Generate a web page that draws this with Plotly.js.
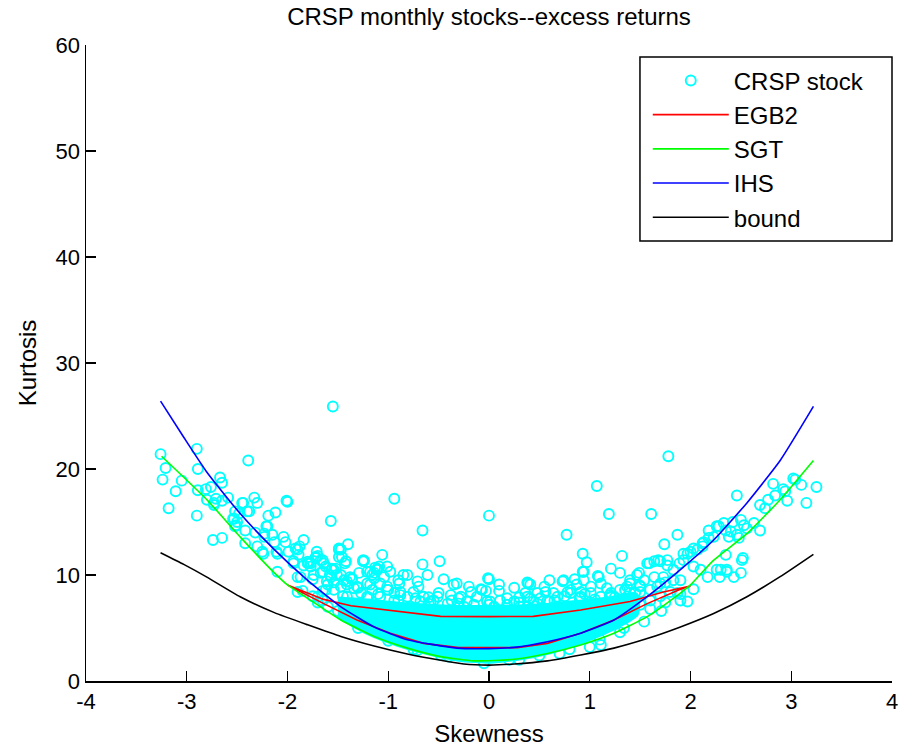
<!DOCTYPE html>
<html>
<head>
<meta charset="utf-8">
<script src="https://cdn.plot.ly/plotly-3.0.1.min.js"></script>
<style>html,body{margin:0;padding:0;background:#fff}#chart{width:909px;height:749px}</style>
</head>
<body>
<div id="chart"></div>
<script>
// ---- data ----
var stockSkew = [-3.26,-2.90,-2.39,-3.21,-2.89,-3.24,-3.05,-2.67,-2.65,-3.11,-2.89,-2.81,-2.76,-2.80,-2.71,-2.59,-2.65,-2.73,-3.18,-2.33,
 -2.30,-2.44,-2.01,-2.90,-2.52,-2.40,-2.12,-2.19,-2.54,-2.50,-2.52,-2.42,-2.32,-2.21,-2.23,-2.15,-2.74,-2.65,-2.42,-2.30,
 -2.13,-2.04,-2.02,-1.84,-1.92,-1.99,-2.24,-2.11,-1.88,-1.71,-1.70,-1.65,-1.47,-1.40,-1.49,-1.56,-1.43,-1.25,-1.06,-1.01,
 -0.49,-2.10,-1.94,-1.84,-1.79,-1.74,-1.65,-1.58,-1.54,-1.38,-1.29,-1.18,-1.14,-1.09,-0.85,-0.81,-0.71,-0.61,-0.35,-0.32,
 -0.01,0.10,-1.55,-0.94,-1.57,0.00,-0.66,-0.66,-1.49,-1.46,-1.24,-1.77,-1.64,-1.13,-0.98,-1.21,-1.56,0.00,-1.08,-1.18,
 -0.89,0.39,0.36,-0.08,-0.03,-0.18,0.10,-0.75,-1.36,-1.47,-1.60,-1.57,-0.38,0.18,0.44,-0.55,-0.68,-0.94,-1.08,0.01,
 -0.25,0.05,-0.15,-0.88,-1.27,-1.21,1.78,1.07,1.19,1.61,0.77,1.87,1.74,0.93,0.97,1.32,0.93,0.73,1.08,1.21,
 1.30,1.47,1.57,1.64,1.70,1.77,1.89,1.93,2.00,2.07,2.12,2.18,2.23,2.28,2.35,2.38,2.46,2.42,2.50,2.53,
 2.46,2.48,2.56,2.63,2.69,2.69,2.74,2.77,2.82,2.84,2.92,2.94,2.96,3.02,3.04,3.10,3.15,3.25,2.35,2.52,
 2.17,2.29,2.36,2.43,2.50,1.97,1.71,1.54,1.34,2.03,1.90,0.38,0.41,1.09,1.59,1.40,1.17,1.01,0.87,0.81,
 0.64,0.56,0.51,1.67,1.83,1.87,1.11,2.30,2.51,2.03,2.12,-1.41,-1.08,-0.71,-0.48,-0.05,-1.70,-1.90,0.30,0.70,
 1.00,-1.30,-1.00,-0.70,-0.50,-0.20,0.25,0.55,0.75,0.95,1.20,1.35,1.50,-1.10,-0.60,-0.30,0.30,0.65,1.05,1.25,
 1.45,-1.45,-1.75,-1.90,-1.65,1.60,1.75,0.85,0.60,-0.45,-0.90];
var stockKurt = [21.4,21.9,20.8,20.1,20.0,19.0,18.9,19.2,18.7,17.9,18.0,18.1,18.3,17.1,17.2,17.3,17.0,16.6,16.3,17.3,
 16.8,16.8,17.0,15.6,16.0,16.0,15.9,15.6,15.3,15.0,14.6,14.2,14.0,14.6,13.6,13.8,13.3,13.5,13.0,12.7,
 13.1,13.6,13.1,13.3,12.5,12.2,12.0,12.2,12.7,12.2,11.8,11.4,12.4,12.9,11.7,10.6,11.1,11.3,11.9,10.8,
 11.3,10.3,11.1,10.9,11.1,10.0,10.3,10.0,9.3,9.8,10.2,10.3,9.7,10.8,10.0,10.0,9.4,10.0,9.1,9.2,
 9.7,9.1,25.9,17.2,15.1,15.6,14.2,11.0,12.5,11.7,11.35,11.1,11.1,10.7,10.3,10.3,10.5,9.6,9.2,9.1,
 9.2,9.2,8.3,8.65,8.5,8.4,8.5,8.4,9.6,8.9,9.1,9.8,8.1,7.8,7.5,7.6,7.5,7.6,7.95,7.5,
 7.0,7.0,7.2,8.1,8.3,7.95,21.2,18.4,15.75,15.75,13.8,13.8,12.9,12.0,11.2,11.8,10.3,9.4,9.9,10.6,
 10.2,10.0,11.1,11.3,11.3,10.9,11.1,12.0,12.2,12.4,12.7,13.5,13.6,14.6,14.2,13.6,17.5,15.0,15.2,14.7,
 13.8,13.5,14.4,14.9,14.2,16.6,16.3,17.1,18.6,17.5,18.1,17.9,17.0,19.1,19.0,18.5,16.8,18.3,11.9,11.6,
 9.8,9.8,10.3,9.8,10.2,7.5,6.6,5.6,5.0,8.65,7.6,9.3,9.1,9.8,11.1,9.2,8.75,8.9,9.1,8.3,
 8.3,8.4,7.8,8.9,9.5,8.3,3.4,10.5,11.4,12.5,13.0,6.2,5.0,2.9,2.45,1.67,7.4,8.4,2.0,2.6,
 3.2,8.8,8.6,8.9,8.3,8.9,8.8,8.9,8.0,8.2,8.1,8.6,9.0,8.2,7.9,7.8,7.9,7.6,7.7,7.9,
 8.3,8.0,9.6,9.8,8.5,8.6,9.3,9.6,9.5,9.6,9.5];

// more stocks, read from the dense halo around the fitted curves
var haloSkew = [-2.53,-2.51,-2.25,-2.23,-2.20,-1.90,-1.89,-1.94,-1.80,-1.72,
 -1.77,-1.87,-1.67,-1.61,-1.52,-1.49,-1.42,-1.47,-1.41,-1.36,
 -1.25,-1.31,-1.21,-1.11,-1.14,-1.16,-1.01,-0.94,-2.00,-2.45,
 -2.73,-2.38,-2.48,-2.10,-1.70,-1.62,-1.54,-1.41,-1.41,-1.26,
 2.13,2.18,2.26,2.33,2.40,2.36,2.26,1.97,1.93,2.03,
 2.10,1.68,1.77,1.83,1.73,1.64,1.54,1.49,1.40,0.94,
 0.94,0.74,1.11,1.37,1.70,1.90,1.50,0.91,0.81,1.21,
 -1.85,-1.75,-1.65,-1.60,-1.50,-1.45,1.50,1.60,1.70,1.80,
 1.60,1.75,1.90,-1.30,-1.00,-0.75,-0.40,0.20,0.50,0.80,
 1.10,1.30,-1.20,-0.90,-0.60,-0.30,0.00,0.30,0.60,0.90,
 1.20];
var haloKurt = [15.3,14.7,12.2,13.9,14.6,12.4,11.9,11.3,11.1,11.6,
 10.8,9.8,10.2,9.4,10.6,12.4,11.3,10.0,9.4,9.7,
 11.4,8.9,9.2,10.6,10.2,8.6,8.9,8.3,16.9,16.8,
 16.8,16.0,15.8,12.0,7.95,8.6,8.6,7.95,6.4,7.0,
 13.1,14.2,14.6,14.9,14.1,10.5,10.5,12.0,11.4,10.8,
 10.5,11.4,11.4,10.5,9.8,9.8,9.5,10.2,9.5,10.3,
 9.5,9.5,9.2,8.9,9.2,9.5,8.4,8.4,8.6,8.3,
 8.5,8.0,7.6,7.0,6.6,7.2,7.2,7.6,8.0,8.4,
 6.8,7.4,8.2,5.0,3.8,3.0,2.3,2.0,2.4,3.0,
 3.9,4.6,7.9,7.6,7.3,7.3,7.2,7.4,7.5,7.8,
 8.1];

// stocks in the crowded band just above the upper EGB2 curve
var bandSkew = [-1.80,-1.72,-1.67,-1.62,-1.54,-1.51,-1.44,-1.41,-1.34,-1.16,
 -1.11,-1.04,-1.01,-0.88,-0.81,-0.78,-0.73,-0.65,-0.58,-0.51,
 -0.41,-0.37,-0.28,-0.22,-0.12,-0.07,-0.02,0.11,0.18,0.25,
 0.31,0.41,0.48,0.38,0.48,0.58,0.68,0.78,0.91,1.01,
 1.11,1.21,1.30,1.40,1.50,0.38,0.51];
var bandKurt = [11.25,11.7,11.4,10.8,10.5,10.0,9.5,9.1,8.75,10.0,
 10.5,9.8,8.6,8.4,7.95,7.0,7.8,7.95,7.5,7.95,
 7.3,7.6,7.95,7.5,7.95,8.6,7.5,7.6,7.2,7.5,
 7.0,7.8,7.3,7.95,8.3,7.6,7.95,8.4,7.95,8.3,
 7.95,7.95,8.6,8.3,8.9,7.0,6.7];

// outline of the solid, fully overlapped part of the stock cloud
var coreSkew = [-1.5,-1.2,-0.9,-0.6,-0.3,0.0,0.3,0.6,0.9,1.2,1.45,
                1.45,1.2,0.9,0.6,0.3,0.0,-0.3,-0.6,-0.9,-1.2,-1.5];
var coreKurt = [7.6,7.4,7.1,6.9,6.8,6.8,6.85,7.0,7.3,7.6,8.0,
                6.4,5.0,3.8,2.9,2.3,2.0,2.2,2.8,3.6,4.7,6.3];

var egb2Skew = [-2.0,-1.64,-1.37,-1.14,-0.81,-0.48,0.0,0.44,0.91,1.40,1.73,2.0,
                1.90,1.57,1.24,0.91,0.58,0.28,-0.30,-0.65,-0.98,-1.31,-1.64,-2.0];
var egb2Kurt = [9.06,7.7,7.1,6.85,6.45,6.1,6.07,6.1,6.7,7.5,8.4,8.96,
                8.65,7.3,5.75,4.5,3.55,3.15,3.15,3.55,4.5,5.75,7.3,9.06];

var sgtSkew = [-3.25,-2.80,-2.47,-2.13,-2.0,-1.80,-1.47,-1.14,-0.81,-0.48,-0.15,0.25,0.58,0.91,1.24,1.57,1.90,2.0,2.23,2.56,2.89,3.22];
var sgtKurt = [21.2,17.1,13.6,10.2,9.06,7.8,5.75,4.2,3.1,2.3,1.9,2.05,2.6,3.4,4.5,6.07,8.3,9.06,11.4,13.9,17.1,20.8];

var ihsSkew = [-3.26,-3.03,-2.80,-2.47,-2.13,-1.80,-1.47,-1.14,-0.81,-0.32,0.0,0.25,0.58,0.91,1.24,1.57,1.90,2.23,2.56,2.89,3.22];
var ihsKurt = [26.4,23.0,19.7,15.8,12.4,9.5,7.0,5.1,3.9,3.1,3.05,3.17,3.7,4.5,5.75,7.95,10.5,13.3,16.8,20.8,25.9];

var boundSkew = [-3.26,-3.03,-2.80,-2.47,-2.13,-1.80,-1.47,-1.14,-0.81,-0.48,-0.25,0.0,0.25,0.58,0.91,1.24,1.57,1.90,2.23,2.56,2.89,3.22];
var boundKurt = [12.1,11.0,9.8,7.95,6.45,5.3,4.2,3.3,2.55,1.95,1.6,1.5,1.6,1.9,2.45,3.1,4.0,5.1,6.37,7.95,9.84,11.95];

var xTickVals = [-4,-3,-2,-1,0,1,2,3,4];
var xTickText = ['-4','-3','-2','-1','0','1','2','3','4'];
var yTickVals = [0,10,20,30,40,50,60];
var yTickText = ['0','10','20','30','40','50','60'];

var seriesNames = ['CRSP stock','EGB2','SGT','IHS','bound'];
var titleText = 'CRSP monthly stocks--excess returns';
var xTitle = 'Skewness';
var yTitle = 'Kurtosis';

// ---- styling ----
var FONT = 'Liberation Sans, Arial, Helvetica, sans-serif';
var CYAN = '#00FFFF';

var traces = [
  {x: coreSkew, y: coreKurt, type: 'scatter', mode: 'lines', fill: 'toself',
   fillcolor: CYAN, line: {color: CYAN, width: 8, shape: 'spline', smoothing: 0.5}, showlegend: false, hoverinfo: 'skip'},
  {x: stockSkew.concat(haloSkew, bandSkew), y: stockKurt.concat(haloKurt, bandKurt), type: 'scatter', mode: 'markers',
   name: seriesNames[0], legendgroup: 'a',
   marker: {symbol: 'circle-open', size: 10, color: CYAN, line: {width: 1.9, color: CYAN}}},
  {x: egb2Skew, y: egb2Kurt, type: 'scatter', mode: 'lines', name: seriesNames[1], legendgroup: 'b',
   line: {color: '#FF0000', width: 1.6}},
  {x: sgtSkew, y: sgtKurt, type: 'scatter', mode: 'lines', name: seriesNames[2], legendgroup: 'c',
   line: {color: '#00FF00', width: 1.6, shape: 'spline', smoothing: 0.5}},
  {x: ihsSkew, y: ihsKurt, type: 'scatter', mode: 'lines', name: seriesNames[3], legendgroup: 'd',
   line: {color: '#0000FF', width: 1.6, shape: 'spline', smoothing: 0.5}},
  {x: boundSkew, y: boundKurt, type: 'scatter', mode: 'lines', name: seriesNames[4], legendgroup: 'e',
   line: {color: '#000000', width: 1.6, shape: 'spline', smoothing: 0.5}}
];

var axisCommon = {
  showline: true, linecolor: '#000', linewidth: 1.5, mirror: false,
  ticks: 'inside', ticklen: 10, tickwidth: 1.3, tickcolor: '#000',
  showgrid: false, zeroline: false,
  tickfont: {family: FONT, size: 22, color: '#000'}
};

var layout = {
  width: 909, height: 749,
  paper_bgcolor: '#fff', plot_bgcolor: '#fff',
  margin: {l: 86, r: 17, t: 45, b: 68},
  font: {family: FONT, size: 22, color: '#000'},
  title: {text: titleText, font: {family: FONT, size: 24, color: '#000'},
          x: 0.5, xref: 'paper', xanchor: 'center', y: 1 - 17/749, yref: 'container', yanchor: 'middle'},
  xaxis: Object.assign({}, axisCommon, {
    range: [-4, 4], tickvals: xTickVals, ticktext: xTickText,
    title: {text: xTitle, font: {family: FONT, size: 24, color: '#000'}, standoff: 12}
  }),
  yaxis: Object.assign({}, axisCommon, {
    range: [0, 60], tickvals: yTickVals, ticktext: yTickText,
    title: {text: yTitle, font: {family: FONT, size: 24, color: '#000'}, standoff: 12}
  }),
  legend: {
    x: 0.697, y: 0.979, xanchor: 'left', yanchor: 'top',
    bgcolor: 'rgba(0,0,0,0)', borderwidth: 0,
    font: {family: FONT, size: 24, color: '#000'},
    itemwidth: 76, traceorder: 'grouped', tracegroupgap: 0
  },
  shapes: [{type: 'rect', xref: 'paper', yref: 'paper', x0: 0.6873, x1: 1.0, y0: 0.6918, y1: 0.9811,
            line: {color: '#000', width: 1.5}, fillcolor: 'rgba(0,0,0,0)', layer: 'above'}],
  showlegend: true
};

Plotly.newPlot('chart', traces, layout, {displayModeBar: false, staticPlot: true});
</script>
</body>
</html>
